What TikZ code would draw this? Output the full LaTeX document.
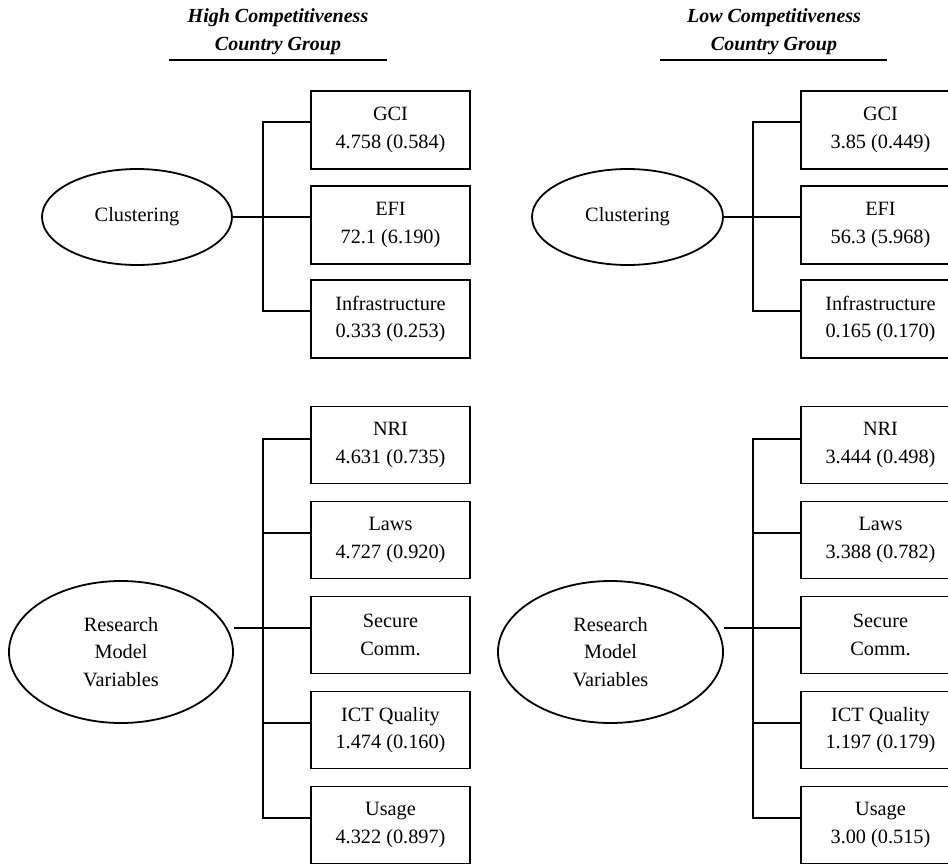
\documentclass[tikz,border=0pt]{standalone}
\usepackage{fontspec}
\setmainfont{Liberation Serif}
\usetikzlibrary{shapes.geometric}
\begin{document}
\begin{tikzpicture}[x=1pt,y=-1pt,
  every node/.style={font=\fontsize{20.3}{27.5}\selectfont, align=center},
  box/.style={draw, line width=1.8pt, minimum width=159pt, minimum height=78pt, inner sep=0pt},
  ell/.style={draw, ellipse, line width=1.8pt, inner sep=0pt},
  conn/.style={line width=1.8pt},
  ttl/.style={font=\fontsize{20}{27.5}\selectfont\bfseries\itshape}]
\clip (0,0) rectangle (948,865);
% titles
\node[ttl] (t1) at (278,31.5) {High Competitiveness\\Country Group};
\node[ttl] (t2) at (774,31.5) {Low Competitiveness\\Country Group};
\coordinate (u1a) at (169,60); \coordinate (u1b) at (387,60);
\coordinate (u2a) at (660,60); \coordinate (u2b) at (887,60);
\draw[conn] (u1a) -- (u1b);
\draw[conn] (u2a) -- (u2b);

% ===== left, top
\node[ell, minimum width=190pt, minimum height=96pt] (lc) at (137,217) {Clustering};
\node[box] (lgci) at (390.5,130) {GCI\\4.758 (0.584)};
\node[box] (lefi) at (390.5,225) {EFI\\72.1 (6.190)};
\node[box] (linf) at (390.5,319) {Infrastructure\\0.333 (0.253)};
\draw[conn] ([yshift=8pt]lgci.west) -- ++(-47,0) -- ([xshift=-47pt,yshift=8pt]linf.west) -- ([yshift=8pt]linf.west);
\draw[conn] (lc.east) -- ([yshift=8pt]lefi.west);

% ===== left, bottom
\node[ell, minimum width=224pt, minimum height=142pt] (lr) at (121,652) {Research\\Model\\Variables};
\node[box, minimum height=77pt] (lnri) at (390.5,445) {NRI\\4.631 (0.735)};
\node[box, minimum height=77pt] (llaw) at (390.5,540) {Laws\\4.727 (0.920)};
\node[box, minimum height=77pt] (lsec) at (390.5,635) {Secure\\Comm.};
\node[box, minimum height=77pt] (lict) at (390.5,730) {ICT Quality\\1.474 (0.160)};
\node[box, minimum height=77pt] (luse) at (390.5,825) {Usage\\4.322 (0.897)};
\coordinate (lsc) at ([yshift=7pt]lsec.west);
\draw[conn] ([yshift=6pt]lnri.west) -- ++(-47,0) -- ([xshift=-47pt,yshift=7pt]luse.west) -- ([yshift=7pt]luse.west);
\draw[conn] ([xshift=-47pt,yshift=7pt]llaw.west) -- ([yshift=7pt]llaw.west);
\draw[conn] ([xshift=-47pt,yshift=7pt]lict.west) -- ([yshift=7pt]lict.west);
\draw[conn] (lr.east |- lsc) -- (lsc);

% ===== right, top
\node[ell, minimum width=191pt, minimum height=96pt] (rc) at (627.5,217) {Clustering};
\node[box] (rgci) at (880.5,130) {GCI\\3.85 (0.449)};
\node[box] (refi) at (880.5,225) {EFI\\56.3 (5.968)};
\node[box] (rinf) at (880.5,319) {Infrastructure\\0.165 (0.170)};
\draw[conn] ([yshift=8pt]rgci.west) -- ++(-47,0) -- ([xshift=-47pt,yshift=8pt]rinf.west) -- ([yshift=8pt]rinf.west);
\draw[conn] (rc.east) -- ([yshift=8pt]refi.west);

% ===== right, bottom
\node[ell, minimum width=225pt, minimum height=142pt] (rr) at (610.5,652) {Research\\Model\\Variables};
\node[box, minimum height=77pt] (rnri) at (880.5,445) {NRI\\3.444 (0.498)};
\node[box, minimum height=77pt] (rlaw) at (880.5,540) {Laws\\3.388 (0.782)};
\node[box, minimum height=77pt] (rsec) at (880.5,635) {Secure\\Comm.};
\node[box, minimum height=77pt] (rict) at (880.5,730) {ICT Quality\\1.197 (0.179)};
\node[box, minimum height=77pt] (ruse) at (880.5,825) {Usage\\3.00 (0.515)};
\coordinate (rsc) at ([yshift=7pt]rsec.west);
\draw[conn] ([yshift=6pt]rnri.west) -- ++(-47,0) -- ([xshift=-47pt,yshift=7pt]ruse.west) -- ([yshift=7pt]ruse.west);
\draw[conn] ([xshift=-47pt,yshift=7pt]rlaw.west) -- ([yshift=7pt]rlaw.west);
\draw[conn] ([xshift=-47pt,yshift=7pt]rict.west) -- ([yshift=7pt]rict.west);
\draw[conn] (rr.east |- rsc) -- (rsc);
\end{tikzpicture}
\end{document}
